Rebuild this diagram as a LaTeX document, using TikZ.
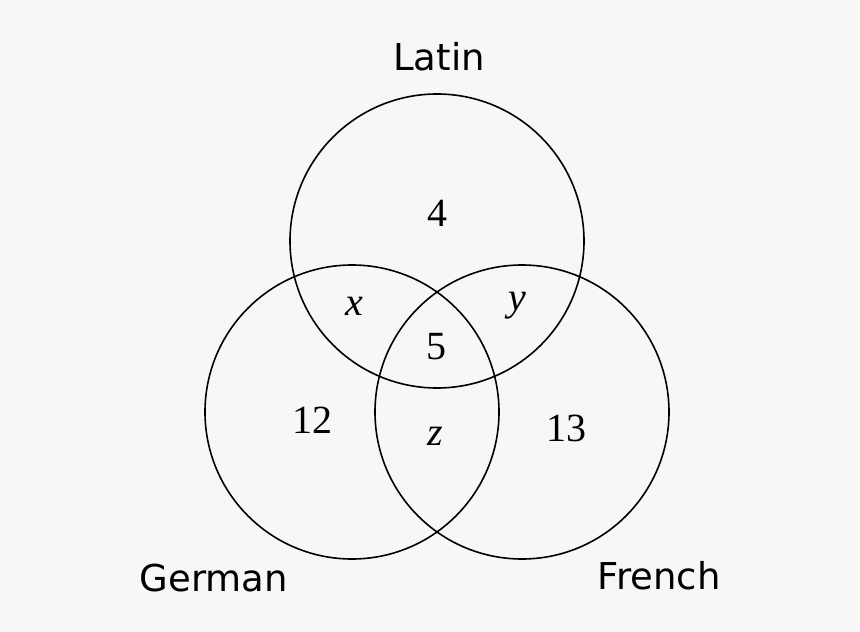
\documentclass[tikz,border=0pt]{standalone}
\usepackage{fontspec}
\setmainfont{Liberation Serif}
\newfontfamily\labelfont{DejaVu Sans}
\usepackage{xcolor}
\usetikzlibrary{positioning}
\definecolor{BG}{RGB}{247,247,247}
\definecolor{DG}{RGB}{0,0,0}

\begin{document}
\begin{tikzpicture}[
  x=1pt, y=-1pt,
  set/.style={draw=DG, line width=1.6pt, circle, minimum size=294pt, inner sep=0pt},
  lang/.style={font=\labelfont\fontsize{37}{40}\selectfont, text=DG},
  count/.style={font=\fontsize{40}{44}\selectfont, text=DG}
]
% Canvas
\fill[BG] (0,0) rectangle (860,632);
\useasboundingbox (0,0) rectangle (860,632);

% Sets
\node[set] (latin)  at (437,241) {};
\node[set] (german) at (352,412) {};
\node[set] (french) at (522,412) {};

% Set names
\node[lang] (latinlbl)  at (439,57)  {Latin};
\node[lang] (germanlbl) at (214,578) {German};
\node[lang] (frenchlbl) at (659,576) {French};

% Region counts
\node[count] (onlyL)  at (437,213) {4};
\node[count] (LG)     at (354,306) {\itshape x};
\node[count] (LF)     at (517,306) {\itshape y};
\node[count] (LGF)    at (436,347) {5};
\node[count] (onlyG)  at (312,420) {12};
\node[count] (GF)     at (435,436) {\itshape z};
\node[count] (onlyF)  at (566,428) {13};
\end{tikzpicture}
\end{document}
